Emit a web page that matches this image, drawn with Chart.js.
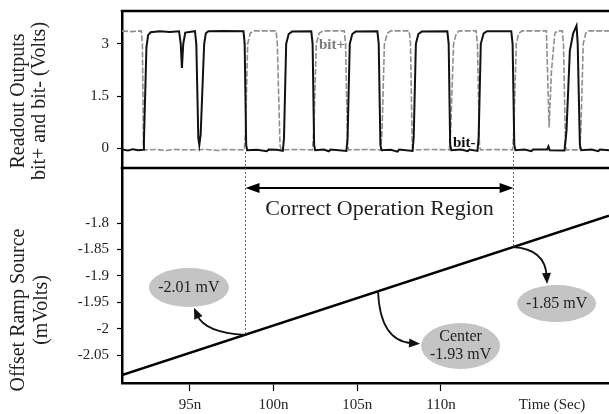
<!DOCTYPE html>
<html><head><meta charset="utf-8">
<script src="https://cdn.jsdelivr.net/npm/chart.js@4.4.1/dist/chart.umd.min.js"></script>
<style>
html,body{margin:0;padding:0;background:#fff;}
#wrap{position:relative;width:609px;height:414px;overflow:hidden;background:#fff;}
canvas{position:absolute;left:0;}
#c1{top:0;} #c2{top:168px;}
</style></head><body>
<div id="wrap"><canvas id="c1" width="609" height="414"></canvas><canvas id="c2" width="609" height="246"></canvas></div>
<script>
// ---------- DATA ----------
const timeRange = [90.94, 120.04];            // ns
const topVoltRange = [-0.56, 3.94];           // V
const topVoltTicks = [0, 1.5, 3];
const topVoltTickLabels = ['0', '1.5', '3'];
const rampRange = [-2.103, -1.6958];          // mV
const rampTicks = [-2.05, -2, -1.95, -1.9, -1.85, -1.8];
const rampTickLabels = ['-2.05', '-2', '-1.95', '-1.9', '-1.85', '-1.8'];
const timeTicks = [95, 100, 105, 110, 116.64];
const timeTickLabels = ['95n', '100n', '105n', '110n', 'Time (Sec)'];

// bit- (black) [time ns, volts]
const bitMinus = [[90.94,-0.03],[91.3,-0.06],[91.6,-0.02],[91.9,-0.05],[92.2,-0.04],[92.25,0.2],[92.4,2.9],[92.5,3.25],[92.65,3.33],[93.2,3.36],[93.8,3.34],[94.35,3.36],[94.45,3.0],[94.52,2.31],[94.6,3.0],[94.72,3.32],[95.3,3.36],[95.38,3.0],[95.5,0.3],[95.56,0.1],[95.64,0.4],[95.85,3.0],[95.95,3.3],[96.1,3.36],[97,3.37],[98.2,3.36],[98.27,3.0],[98.36,0.1],[98.42,-0.05],[99,-0.04],[99.6,-0.08],[99.7,-0.03],[100.2,-0.04],[100.55,-0.07],[100.62,0.3],[100.75,3.0],[100.9,3.28],[101.1,3.35],[102.25,3.36],[102.33,3.0],[102.42,0.1],[102.48,-0.05],[103.0,-0.03],[103.3,-0.08],[103.4,-0.03],[104.35,-0.07],[104.42,0.3],[104.55,3.0],[104.7,3.28],[104.9,3.35],[106.2,3.36],[106.28,3.0],[106.38,0.1],[106.45,-0.05],[107.0,-0.04],[107.4,-0.09],[107.5,-0.03],[108.3,-0.07],[108.37,0.3],[108.5,3.0],[108.65,3.28],[108.85,3.35],[110.38,3.36],[110.46,3.0],[110.55,0.1],[110.62,-0.05],[111.2,-0.03],[111.6,-0.08],[111.7,-0.03],[112.18,-0.07],[112.25,0.3],[112.38,3.0],[112.55,3.3],[112.75,3.36],[114.2,3.36],[114.28,3.0],[114.38,0.1],[114.45,-0.05],[115.0,-0.03],[115.4,-0.08],[115.5,-0.03],[116.35,-0.03],[116.42,0.06],[116.5,-0.05],[117.38,-0.06],[117.5,0.5],[117.7,2.8],[117.9,3.3],[118.1,3.52],[118.17,3.0],[118.3,0.1],[118.38,-0.05],[119.0,-0.03],[119.4,-0.08],[119.5,-0.03],[120.04,-0.05]];

// bit+ (grey) [time ns, volts]
const bitPlus = [[90.94,3.37],[91.5,3.35],[92.1,3.37],[92.16,3.0],[92.22,0.1],[92.28,-0.04],[93,-0.03],[93.6,-0.06],[94,-0.03],[95,-0.04],[96,-0.03],[96.7,-0.06],[97,-0.03],[98.25,-0.04],[98.32,0.5],[98.45,3.0],[98.6,3.3],[98.8,3.37],[100.15,3.37],[100.22,3.0],[100.38,0.1],[100.45,-0.04],[101.5,-0.03],[102.32,-0.04],[102.4,0.5],[102.55,3.0],[102.72,3.3],[102.95,3.37],[104.22,3.37],[104.3,3.0],[104.42,0.1],[104.48,-0.04],[105.5,-0.03],[106.4,-0.04],[106.48,0.5],[106.62,3.0],[106.8,3.3],[107.0,3.37],[108.1,3.37],[108.18,3.0],[108.28,0.1],[108.35,-0.04],[109.5,-0.03],[110.5,-0.04],[110.58,0.5],[110.75,3.0],[110.92,3.3],[111.1,3.37],[112.1,3.37],[112.18,3.0],[112.3,0.1],[112.36,-0.04],[113.3,-0.03],[114.28,-0.04],[114.35,0.5],[114.5,3.0],[114.65,3.3],[114.85,3.37],[116.3,3.37],[116.38,2.0],[116.46,0.6],[116.6,2.2],[116.8,3.3],[116.95,3.37],[117.25,3.37],[117.32,3.0],[117.44,0.1],[117.5,-0.04],[118.28,-0.04],[118.36,0.5],[118.5,3.0],[118.65,3.3],[118.85,3.37],[120.04,3.37]];

// offset ramp [time ns, mV]
const ramp = [[90.94,-2.088],[120.04,-1.786]];

// correct operation region boundaries (ns)
const regionBounds = [98.29, 114.31];

// callouts: anchor time on ramp, text lines, bubble centre [ns, mV]
const calloutAnchors = [98.29, 106.24, 114.31];
const calloutTexts = [['-2.01 mV'], ['Center', '-1.93 mV'], ['-1.85 mV']];
const calloutCenters = [[94.94,-1.9222], [111.17,-2.033], [116.91,-1.9525]];

// ---------- STYLE / LAYOUT ----------
const SERIF = '"Liberation Serif","Times New Roman",serif';
const tickFont = {family: SERIF, size: 15};
const calloutStyle = [
  {rx:40, ry:19.5, ctrl:[-40,-2], tip:[-51,-27]},
  {rx:39.5, ry:23, ctrl:[2,50], tip:[42,52.5]},
  {rx:39.5, ry:18.5, ctrl:[32,2], tip:[34,37]}
];

function rampAt(t){
  const [a,b] = ramp;
  return a[1] + (t - a[0]) * (b[1] - a[1]) / (b[0] - a[0]);
}
function arrowHead(ctx, tx, ty, dx, dy, len, w){
  const L = Math.hypot(dx, dy), ux = dx/L, uy = dy/L;
  ctx.beginPath();
  ctx.moveTo(tx, ty);
  ctx.lineTo(tx - ux*len - uy*w/2, ty - uy*len + ux*w/2);
  ctx.lineTo(tx - ux*len + uy*w/2, ty - uy*len - ux*w/2);
  ctx.closePath();
  ctx.fill();
}
function vTitle(ctx, x, y, text){
  ctx.save();
  ctx.translate(x, y);
  ctx.rotate(-Math.PI/2);
  ctx.font = '20px ' + SERIF;
  ctx.fillStyle = '#222';
  ctx.textAlign = 'center';
  ctx.textBaseline = 'middle';
  ctx.fillText(text, 0, 0);
  ctx.restore();
}
function noPad(s){ s.paddingTop = 0; s.paddingBottom = 0; s.paddingLeft = 0; s.paddingRight = 0; }

const topDecor = {
  id: 'topDecor',
  afterDatasetsDraw(chart){
    const {ctx, chartArea:a, scales:{x, y}} = chart;
    ctx.save();
    ctx.strokeStyle = '#666'; ctx.lineWidth = 1; ctx.setLineDash([2,2]);
    regionBounds.forEach(t => {
      const px = Math.round(x.getPixelForValue(t)) + 0.5;
      ctx.beginPath(); ctx.moveTo(px, y.getPixelForValue(-0.1)); ctx.lineTo(px, a.bottom); ctx.stroke();
    });
    ctx.setLineDash([]);
    ctx.strokeStyle = '#000'; ctx.lineWidth = 2.5;
    ctx.beginPath();
    ctx.moveTo(a.left - 1.25, a.top); ctx.lineTo(chart.width, a.top);
    ctx.moveTo(a.left - 1.25, a.bottom); ctx.lineTo(chart.width, a.bottom);
    ctx.stroke();
    ctx.font = 'bold 15px ' + SERIF; ctx.textBaseline = 'alphabetic'; ctx.textAlign = 'left';
    ctx.fillStyle = '#7a7a7a';
    ctx.fillText('bit+', x.getPixelForValue(102.71), y.getPixelForValue(2.85));
    ctx.fillStyle = '#111';
    ctx.fillText('bit-', x.getPixelForValue(110.72), y.getPixelForValue(0.04));
    vTitle(ctx, 19, 101, 'Readout Outputs');
    vTitle(ctx, 40, 101, 'bit+ and bit- (Volts)');
    ctx.restore();
  }
};

const bottomDecor = {
  id: 'bottomDecor',
  afterDatasetsDraw(chart){
    const {ctx, chartArea:a, scales:{x, y}} = chart;
    ctx.save();
    ctx.strokeStyle = '#666'; ctx.lineWidth = 1; ctx.setLineDash([2,2]);
    regionBounds.forEach(t => {
      const px = Math.round(x.getPixelForValue(t)) + 0.5;
      ctx.beginPath(); ctx.moveTo(px, a.top); ctx.lineTo(px, y.getPixelForValue(rampAt(t))); ctx.stroke();
    });
    ctx.setLineDash([]);
    const x1 = x.getPixelForValue(regionBounds[0]) + 0.5, x2 = x.getPixelForValue(regionBounds[1]) + 0.5;
    const ay = a.top + 20;
    ctx.strokeStyle = '#000'; ctx.fillStyle = '#000'; ctx.lineWidth = 2;
    ctx.beginPath(); ctx.moveTo(x1 + 10, ay); ctx.lineTo(x2 - 10, ay); ctx.stroke();
    arrowHead(ctx, x1, ay, -1, 0, 14, 10);
    arrowHead(ctx, x2, ay, 1, 0, 14, 10);
    ctx.font = '22px ' + SERIF; ctx.fillStyle = '#222';
    ctx.textAlign = 'center'; ctx.textBaseline = 'alphabetic';
    ctx.fillText('Correct Operation Region', (x1 + x2)/2, a.top + 47);
    calloutAnchors.forEach((t, i) => {
      const st = calloutStyle[i];
      const cx = x.getPixelForValue(calloutCenters[i][0]), cy = y.getPixelForValue(calloutCenters[i][1]);
      ctx.fillStyle = '#c4c4c4';
      ctx.beginPath(); ctx.ellipse(cx, cy, st.rx, st.ry, 0, 0, Math.PI*2); ctx.fill();
      ctx.fillStyle = '#222'; ctx.font = '16px ' + SERIF; ctx.textAlign = 'center'; ctx.textBaseline = 'middle';
      const lines = calloutTexts[i];
      lines.forEach((s, k) => ctx.fillText(s, cx, cy + (k - (lines.length - 1)/2) * 18));
      const sx = x.getPixelForValue(t), sy = y.getPixelForValue(rampAt(t));
      const c = [sx + st.ctrl[0], sy + st.ctrl[1]], e = [sx + st.tip[0], sy + st.tip[1]];
      const dx = e[0] - c[0], dy = e[1] - c[1], L = Math.hypot(dx, dy);
      const ex = e[0] - dx/L*8, ey = e[1] - dy/L*8;
      ctx.strokeStyle = '#111'; ctx.lineWidth = 1.8;
      ctx.beginPath(); ctx.moveTo(sx, sy); ctx.quadraticCurveTo(c[0], c[1], ex, ey); ctx.stroke();
      ctx.fillStyle = '#111';
      arrowHead(ctx, e[0], e[1], dx, dy, 11, 9);
    });
    vTitle(ctx, 19, 142, 'Offset Ramp Source');
    vTitle(ctx, 42, 142, '(mVolts)');
    ctx.restore();
  }
};

const yAxisCommon = {
  afterFit(s){ s.width = 122; noPad(s); },
  grid: {drawOnChartArea: false, tickLength: 5, tickWidth: 1.2, color: '#000'},
  border: {width: 2.5, color: '#000'}
};

new Chart(document.getElementById('c1'), {
  type: 'line',
  data: {datasets: [
    {label: 'bit-', data: bitMinus.map(([t, v]) => ({x: t, y: v})), borderColor: '#111', borderWidth: 2, pointRadius: 0, tension: 0},
    {label: 'bit+', data: bitPlus.map(([t, v]) => ({x: t, y: v})), borderColor: '#8e8e8e', borderWidth: 1.6, borderDash: [6, 2], pointRadius: 0, tension: 0}
  ]},
  options: {
    responsive: false, animation: false, events: [],
    layout: {padding: {top: 11, bottom: 246, left: 0, right: 0}},
    plugins: {legend: {display: false}, tooltip: {enabled: false}},
    scales: {
      x: {type: 'linear', min: timeRange[0], max: timeRange[1], display: false},
      y: Object.assign({}, yAxisCommon, {
        type: 'linear', min: topVoltRange[0], max: topVoltRange[1],
        afterBuildTicks(s){ s.ticks = topVoltTicks.map(v => ({value: v})); },
        ticks: {font: tickFont, color: '#222', padding: 8, callback: (v, i) => topVoltTickLabels[i]}
      })
    }
  },
  plugins: [topDecor]
});

new Chart(document.getElementById('c2'), {
  type: 'line',
  data: {datasets: [
    {label: 'Offset ramp', data: ramp.map(([t, v]) => ({x: t, y: v})), borderColor: '#000', borderWidth: 2.5, pointRadius: 0, tension: 0}
  ]},
  options: {
    responsive: false, animation: false, events: [],
    layout: {padding: {top: 0, bottom: 0, left: 0, right: 0}},
    plugins: {legend: {display: false}, tooltip: {enabled: false}},
    scales: {
      x: {
        type: 'linear', min: timeRange[0], max: timeRange[1],
        afterFit(s){ s.height = 31; noPad(s); },
        afterBuildTicks(s){ s.ticks = timeTicks.map(v => ({value: v})); },
        ticks: {font: tickFont, color: '#222', padding: 5, autoSkip: false, maxRotation: 0, callback: (v, i) => timeTickLabels[i]},
        grid: {drawOnChartArea: false, tickLength: 8, tickWidth: 1.2,
               tickColor: ctx => (ctx.index === timeTicks.length - 1 ? 'rgba(0,0,0,0)' : '#000')},
        border: {width: 2.5, color: '#000'}
      },
      y: Object.assign({}, yAxisCommon, {
        type: 'linear', min: rampRange[0], max: rampRange[1],
        afterBuildTicks(s){ s.ticks = rampTicks.map(v => ({value: v})); },
        ticks: {font: tickFont, color: '#222', padding: 8, callback: (v, i) => rampTickLabels[i]}
      })
    }
  },
  plugins: [bottomDecor]
});
</script>
</body></html>
